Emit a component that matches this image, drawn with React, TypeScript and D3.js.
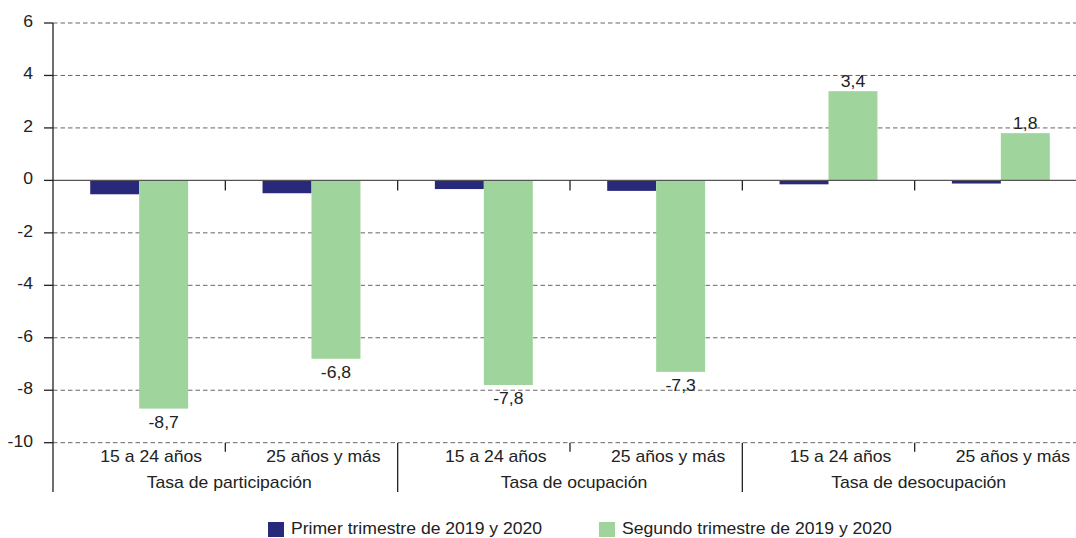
import * as d3 from "d3"

// categorías y valores (variación en puntos porcentuales)
const grupos = ["Tasa de participación", "Tasa de ocupación", "Tasa de desocupación"]
const edades = ["15 a 24 años", "25 años y más"]
const series = ["Primer trimestre de 2019 y 2020", "Segundo trimestre de 2019 y 2020"]
const primer = [-0.53, -0.49, -0.33, -0.4, -0.15, -0.12]
const segundo = [-8.7, -6.8, -7.8, -7.3, 3.4, 1.8]
const yTicks = [6, 4, 2, 0, -2, -4, -6, -8, -10]

const colores = ["#29297b", "#9fd49c"]
const font = "'Liberation Sans', Arial, Helvetica, sans-serif"
const W = 1076
const H = 538

const claves = grupos.flatMap((g, gi) => edades.map((e, ei) => `${gi}-${ei}`))

const x0 = d3.scaleBand<string>().domain(claves).range([53, 1087]).padding(0)
const x1 = d3.scaleBand<number>().domain([0, 1]).range([0, x0.bandwidth()]).paddingInner(0).paddingOuter(0.76)
const y = d3.scaleLinear().domain([-10, 6]).range([442.7, 23])

const fmt = (v: number) => v.toFixed(1).replace(".", ",")

function T({ x, y: ty, anchor = "middle", children }: any) {
  return (
    <text
      transform={`translate(${x},${ty}) scale(1.1,1)`}
      textAnchor={anchor}
      fontFamily={font}
      fontSize={16}
      fill="#222"
    >
      {children}
    </text>
  )
}

export default function App() {
  const y0 = y(0)
  const yBase = y(-10)
  const left = x0.range()[0]
  const subW = x0.bandwidth()

  return (
    <svg width={W} height={H} style={{ position: "absolute", left: 0, top: 0, background: "#fff" }}>
      {/* rejilla */}
      {yTicks.map(t => (
        <g key={t}>
          {t !== 0 && (
            <line x1={left} x2={W} y1={y(t)} y2={y(t)} stroke="#666" strokeWidth={1} strokeDasharray="4.5,3" />
          )}
          <line x1={44} x2={left} y1={y(t)} y2={y(t)} stroke="#222" strokeWidth={1.3} />
          <T x={33} y={y(t) + 4} anchor="end">{t}</T>
        </g>
      ))}

      {/* barras */}
      {claves.map((k, i) => {
        const vals = [primer[i], segundo[i]]
        return (
          <g key={k} transform={`translate(${x0(k)},0)`}>
            {vals.map((v, s) => (
              <rect
                key={s}
                x={x1(s)}
                width={x1.bandwidth()}
                y={Math.min(y(v), y0)}
                height={Math.abs(y(v) - y0)}
                fill={colores[s]}
              />
            ))}
            <T
              x={(x1(1) as number) + x1.bandwidth() / 2}
              y={segundo[i] < 0 ? y(segundo[i]) + 19 : y(segundo[i]) - 4}
            >
              {fmt(segundo[i])}
            </T>
          </g>
        )
      })}

      {/* eje cero */}
      <line x1={left} x2={W} y1={y0} y2={y0} stroke="#555" strokeWidth={1.4} />
      {claves.slice(1).map(k => (
        <line key={k} x1={x0(k)} x2={x0(k)} y1={y0} y2={y0 + 10} stroke="#222" strokeWidth={1.3} />
      ))}

      {/* eje vertical */}
      <line x1={left} x2={left} y1={y(6)} y2={492} stroke="#222" strokeWidth={1.3} />

      {/* etiquetas de categorías */}
      {grupos.map((g, gi) => {
        const a = x0(`${gi}-0`) as number
        const b = a + 2 * subW
        return (
          <g key={g}>
            {gi > 0 && <line x1={a} x2={a} y1={yBase} y2={492} stroke="#222" strokeWidth={1.3} />}
            <line x1={a + subW} x2={a + subW} y1={yBase} y2={yBase + 9} stroke="#222" strokeWidth={1.3} />
            {edades.map((e, ei) => (
              <T key={e} x={a + subW * ei + subW / 2 + 12} y={462}>{e}</T>
            ))}
            <T x={(a + b) / 2 + 4} y={488}>{g}</T>
          </g>
        )
      })}

      {/* leyenda */}
      {series.map((s, i) => {
        const lx = [268, 599][i]
        return (
          <g key={s}>
            <rect x={lx} y={522} width={16} height={15} fill={colores[i]} />
            <T x={lx + 23} y={534} anchor="start">{s}</T>
          </g>
        )
      })}
    </svg>
  )
}
